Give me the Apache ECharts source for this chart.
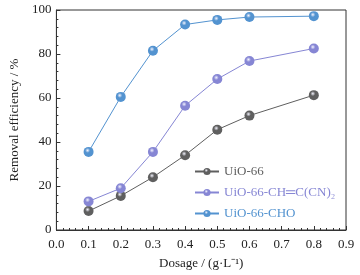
<!DOCTYPE html>
<html>
<head>
<meta charset="utf-8">
<script src="https://cdn.jsdelivr.net/npm/echarts@6/dist/echarts.min.js"></script>
<style>
html, body { margin: 0; padding: 0; background: #fff; }
#chart { width: 360px; height: 275px; }
</style>
</head>
<body>
<div id="chart"></div>
<script>
var myChart = echarts.init(document.getElementById('chart'));
/*--------------------- 数据 ---------------------*/
var dosage = [0.1, 0.2, 0.3, 0.4, 0.5, 0.6, 0.8];
var uio66 = [8.6, 15.5, 24, 34, 45.6, 52, 61.3];
var uio66CN = [13, 19, 35.5, 56.5, 68.6, 76.8, 82.5];
var uio66CHO = [35.5, 60.5, 81.5, 93.4, 95.5, 96.8, 97.2];
var names = ['UiO-66', 'UiO-66-CH═C(CN)₂', 'UiO-66-CHO'];
var colors = ['#5f5f5f', '#8686d4', '#5393d0'];
var font = 'Liberation Serif';

function pairs(ys) {
    return dosage.map(function (x, i) { return [x, ys[i]]; });
}

function sphere(c) {
    return {
        type: 'radial', x: 0.4, y: 0.35, r: 0.7,
        colorStops: [
            { offset: 0, color: '#f4f4ff' },
            { offset: 0.35, color: c },
            { offset: 1, color: c }
        ]
    };
}

var allData = [uio66, uio66CN, uio66CHO];
var series = allData.map(function (d, i) {
    return {
        name: names[i],
        type: 'line',
        data: pairs(d),
        symbol: 'circle',
        symbolSize: 10,
        lineStyle: { color: colors[i], width: 1 },
        itemStyle: { color: sphere(colors[i]), borderWidth: 0 },
        z: 3 + i
    };
});

var option = {
    backgroundColor: '#fff',
    animation: false,
    grid: {
        left: 47, right: 14, top: 10, bottom: 45,
        show: true, borderColor: '#333', borderWidth: 1
    },
    legend: {
        orient: 'vertical',
        left: 189, top: 159,
        itemWidth: 24, itemHeight: 9,
        itemGap: 6,
        data: names.map(function (n, i) {
            return { name: n, textStyle: { color: colors[i] } };
        }),
        textStyle: { fontFamily: font, fontSize: 13, lineHeight: 15 }
    },
    xAxis: {
        type: 'value',
        min: 0, max: 0.9, interval: 0.1,
        name: 'Dosage / (g·L⁻¹)',
        nameLocation: 'middle',
        nameGap: 27,
        nameTextStyle: { fontFamily: font, fontSize: 13, color: '#222' },
        axisLine: { lineStyle: { color: '#333' } },
        axisTick: { inside: true, length: 4, lineStyle: { color: '#333' } },
        minorTick: { show: true, splitNumber: 5, length: 2, lineStyle: { color: '#333' } },
        axisLabel: {
            fontFamily: font, fontSize: 13, color: '#222', margin: 8,
            formatter: function (v) { return v.toFixed(1); }
        },
        splitLine: { show: false }
    },
    yAxis: {
        type: 'value',
        min: 0, max: 100, interval: 20,
        name: 'Removal efficiency / %',
        nameLocation: 'middle',
        nameGap: 32,
        nameTextStyle: { fontFamily: font, fontSize: 13, color: '#222' },
        axisLine: { show: true, lineStyle: { color: '#333' } },
        axisTick: { inside: true, length: 4, lineStyle: { color: '#333' } },
        minorTick: { show: true, splitNumber: 5, length: 2, lineStyle: { color: '#333' } },
        axisLabel: { fontFamily: font, fontSize: 13, color: '#222', margin: 5 },
        splitLine: { show: false }
    },
    series: series
};
myChart.setOption(option);
</script>
</body>
</html>
